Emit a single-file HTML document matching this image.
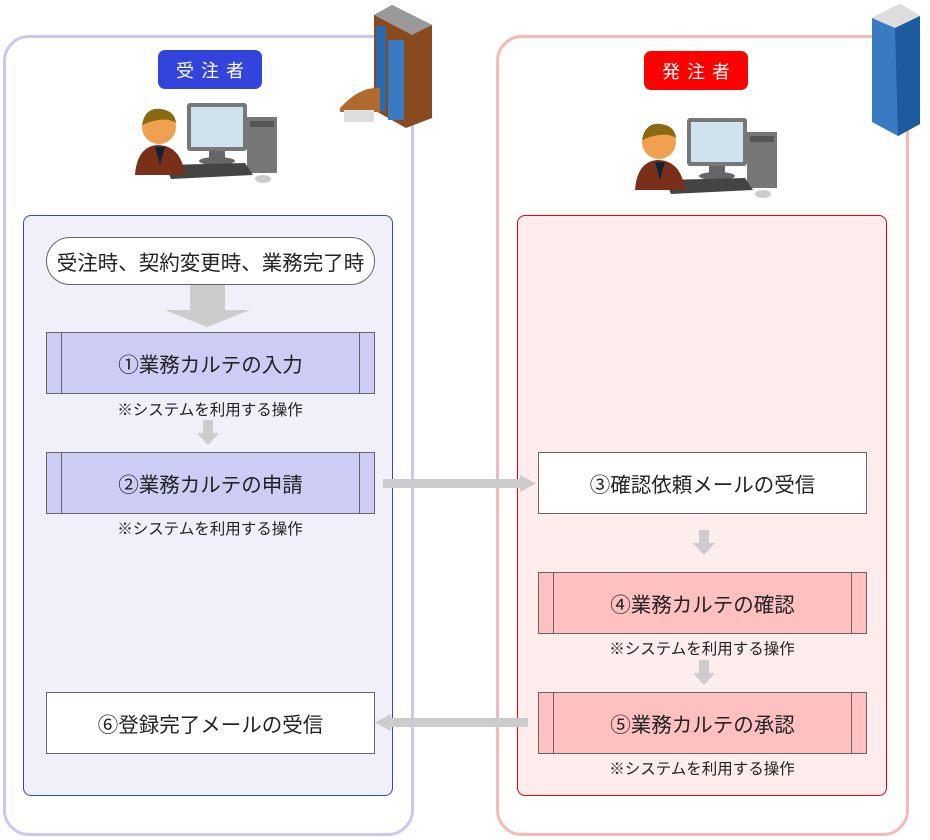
<!DOCTYPE html>
<html><head><meta charset="utf-8"><style>
body{margin:0;width:930px;height:840px;background:#fff;position:relative;overflow:hidden;font-family:"Liberation Sans","Noto Sans CJK JP",sans-serif}
div{position:absolute;box-sizing:border-box}
.box{display:flex;align-items:center;justify-content:center;font-size:20.5px;color:#222;border:1px solid #666}
.note{font-size:15.5px;color:#222;text-align:center;width:328px}
.badge{color:#fff;font-size:18px;letter-spacing:7px;padding-left:7px;display:flex;align-items:center;justify-content:center;border-radius:7px}
.sl{position:absolute;top:0;bottom:0;width:1px;background:#666}
</style></head><body>
<div style="left:3px;top:35px;width:411px;height:801px;border:3px solid #c8c8f4;border-radius:26px"></div>
<div style="left:496px;top:35px;width:413px;height:801px;border:3px solid #f7b8b8;border-radius:26px"></div>
<div style="left:23px;top:215px;width:370px;height:581px;border:1px solid #3344dd;background:#f0f0fb;border-radius:8px"></div>
<div style="left:517px;top:215px;width:370px;height:581px;border:1px solid #e00;background:#ffecec;border-radius:8px"></div>
<div class="badge" style="left:158px;top:50px;width:104px;height:39px;background:#3344dd">受注者</div>
<div class="badge" style="left:644px;top:51px;width:104px;height:39px;background:#ff0000">発注者</div>

<svg style="position:absolute;left:0;top:0" width="930" height="840">
<defs><g id="pc">
<rect x="52" y="0" width="60" height="48" rx="3" fill="#777"/><rect x="56" y="4" width="52" height="40" fill="#cfe3ef"/>
<rect x="74" y="48" width="16" height="8" fill="#666"/><ellipse cx="82" cy="58" rx="18" ry="4" fill="#666"/>
<rect x="112" y="14" width="30" height="56" fill="#777"/><rect x="115" y="18" width="24" height="6" fill="#555"/>
<path d="M30 62 L110 60 L118 72 L36 76Z" fill="#444"/><ellipse cx="128" cy="76" rx="8" ry="4" fill="#ccc"/>
<path d="M0 72 Q2 44 22 42 Q46 42 50 72Z" fill="#7a3018"/><path d="M20 44 L25 62 L30 44Z" fill="#123"/>
<circle cx="24" cy="24" r="17" fill="#f0a050"/><path d="M7 22 Q10 4 26 6 Q40 8 41 20 Q30 12 7 22Z" fill="#8a6a10"/>
</g></defs>
<use href="#pc" x="135" y="103"/>
<use href="#pc" x="635" y="118"/>
<path d="M374 15 L392 5 L432 25 L432 118 L406 128 L374 110Z" fill="#8a4a20"/>
<path d="M374 15 L392 5 L432 25 L412 35Z" fill="#999"/>
<rect x="376" y="26" width="10" height="85" fill="#2a6ab0"/><rect x="388" y="40" width="16" height="80" fill="#3a7ac0"/>
<path d="M340 108 Q360 86 380 88 L380 112 L340 112Z" fill="#b06a30"/><rect x="344" y="110" width="30" height="12" fill="#ddd"/>
<path d="M872 18 L900 4 L920 16 L920 124 L898 136 L872 122Z" fill="#3a7ac0"/>
<path d="M872 18 L900 4 L920 16 L895 28Z" fill="#ddd"/><path d="M895 28 L920 16 L920 124 L898 136Z" fill="#1e5a9e"/>
<g fill="#ccc">
<rect x="190" y="284" width="35" height="27"/><path d="M165 310 L250 310 L207 327Z"/>
<rect x="203" y="420" width="10" height="14"/><path d="M197 433 L219 433 L208 445Z"/>
<rect x="699" y="530" width="10" height="14"/><path d="M693 543 L715 543 L704 555Z"/>
<rect x="699" y="660" width="10" height="14"/><path d="M693 673 L715 673 L704 685Z"/>
<rect x="383" y="479" width="138" height="9"/><path d="M520 475 L536 483.5 L520 492Z"/>
<rect x="390" y="718" width="138" height="9"/><path d="M391 714 L375 722.5 L391 731Z"/>
</g>
</svg>

<div class="box" style="left:46px;top:237px;width:329px;height:48px;border-radius:24px;background:#fff">受注時、契約変更時、業務完了時</div>
<div class="box" style="left:46px;top:332px;width:329px;height:62px;background:#ccccf5"><span class="sl" style="left:14px"></span><span class="sl" style="right:14px"></span>①業務カルテの入力</div>
<div class="note" style="left:46px;top:398px">※システムを利用する操作</div>
<div class="box" style="left:46px;top:452px;width:329px;height:62px;background:#ccccf5"><span class="sl" style="left:14px"></span><span class="sl" style="right:14px"></span>②業務カルテの申請</div>
<div class="note" style="left:46px;top:517px">※システムを利用する操作</div>
<div class="box" style="left:538px;top:452px;width:329px;height:62px;background:#fff">③確認依頼メールの受信</div>
<div class="box" style="left:538px;top:572px;width:329px;height:62px;background:#ffc0c0"><span class="sl" style="left:14px"></span><span class="sl" style="right:14px"></span>④業務カルテの確認</div>
<div class="note" style="left:538px;top:637px">※システムを利用する操作</div>
<div class="box" style="left:538px;top:692px;width:329px;height:62px;background:#ffc0c0"><span class="sl" style="left:14px"></span><span class="sl" style="right:14px"></span>⑤業務カルテの承認</div>
<div class="note" style="left:538px;top:757px">※システムを利用する操作</div>
<div class="box" style="left:46px;top:692px;width:329px;height:62px;background:#fff">⑥登録完了メールの受信</div>
</body></html>
